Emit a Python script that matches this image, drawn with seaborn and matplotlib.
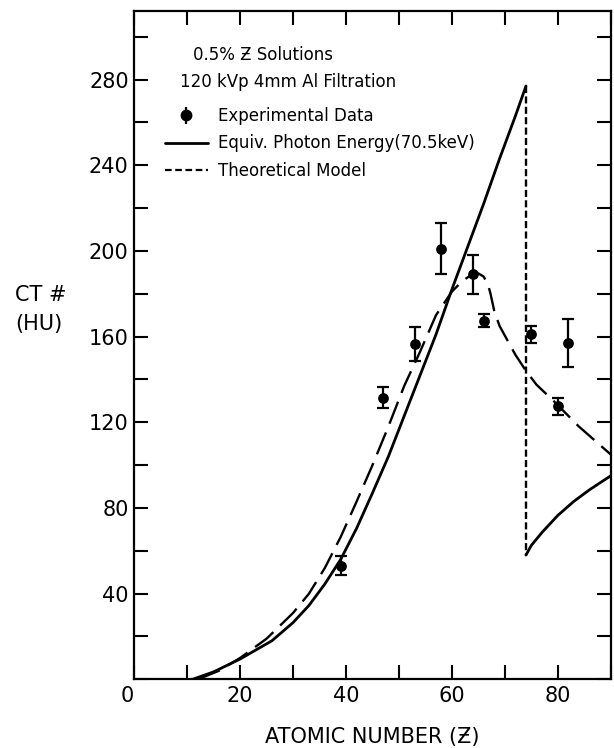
import numpy as np
import pandas as pd
import matplotlib
matplotlib.use("Agg")
import matplotlib.pyplot as plt
from matplotlib.lines import Line2D
import seaborn as sns

# Measured CT numbers of 0.5% solutions of elements Z
z_exp = [39, 47, 53, 58, 64, 66, 75, 80, 82]
ct_exp = [53, 131.5, 156.5, 201, 189, 167.5, 161, 127.5, 157]
ct_err = [4.5, 5, 8, 12, 9, 3, 4, 4, 11]

# Equivalent photon energy (70.5 keV) prediction, below and above the K-edge
z_eq_low = [11, 15, 20, 26, 30, 33, 36, 39, 42, 45, 48, 51, 54, 57, 60, 63, 66, 69, 72, 74]
ct_eq_low = [0, 3.5, 9.5, 18, 26.5, 34.5, 44.5, 56, 70.5, 87, 104, 123, 142, 161, 182, 202, 222, 243, 263, 277]
z_eq_high = [74, 75, 77, 80, 83, 86, 90]
ct_eq_high = [58, 62.5, 68.5, 76.5, 83, 88.5, 95]

# Full-spectrum theoretical model
z_th = [12, 16, 20, 25, 30, 33, 36, 39, 42, 45, 48, 51, 54, 57, 60, 62, 63.5, 65, 66, 66.8,
        67.3, 68, 69, 70, 72, 74, 76, 79, 84, 90]
ct_th = [0, 4, 10, 19, 31, 40, 52, 66.5, 83, 100, 118, 137, 153, 170, 181, 186, 188.5, 189.5, 188, 184.5,
         180, 172, 165, 160.5, 151.5, 144, 137.5, 130.5, 118, 105]

x_ticks_major = [0, 20, 40, 60, 80]
y_ticks_major = [40, 80, 120, 160, 200, 240, 280]

sns.set_style("ticks")
plt.rcParams["font.family"] = ["DejaVu Sans"]
plt.rcParams["text.color"] = "black"
plt.rcParams["axes.labelcolor"] = "black"
plt.rcParams["axes.linewidth"] = 1.5

fig = plt.figure(figsize=(6.14, 7.48), dpi=100)
ax = fig.add_axes([0.2187, 0.0918, 0.7759, 0.8935])

low = pd.DataFrame({"Z": z_eq_low, "CT": ct_eq_low})
high = pd.DataFrame({"Z": z_eq_high, "CT": ct_eq_high})
theory = pd.DataFrame({"Z": z_th, "CT": ct_th})
exp = pd.DataFrame({"Z": z_exp, "CT": ct_exp, "err": ct_err})

lw = 2.0
sns.lineplot(data=low, x="Z", y="CT", ax=ax, color="black", lw=lw,
             sort=False, estimator=None)
sns.lineplot(data=high, x="Z", y="CT", ax=ax, color="black", lw=lw,
             sort=False, estimator=None)
# K-edge discontinuity of the equivalent-energy curve
edge = pd.DataFrame({"Z": [z_eq_low[-1], z_eq_high[0]],
                     "CT": [ct_eq_low[-1], ct_eq_high[0]]})
sns.lineplot(data=edge, x="Z", y="CT", ax=ax, color="black", lw=1.7,
             sort=False, estimator=None, linestyle=(0, (3, 1.4)))
sns.lineplot(data=theory, x="Z", y="CT", ax=ax, color="black", lw=1.7,
             sort=False, estimator=None, linestyle=(0, (10, 4)))

ax.errorbar(exp["Z"], exp["CT"], yerr=exp["err"], fmt="none", ecolor="black",
            elinewidth=1.6, capsize=4.3, capthick=1.6)
sns.scatterplot(data=exp, x="Z", y="CT", ax=ax, color="black", s=60,
                edgecolor="black", linewidth=0, zorder=5)

ax.set_xlim(0, 90)
ax.set_ylim(0, 312)
ax.set_xticks(np.arange(0, 91, 10))
ax.set_xticklabels([str(v) if v in x_ticks_major else "" for v in range(0, 91, 10)])
ax.set_yticks(np.arange(0, 301, 20))
ax.set_yticklabels([str(v) if v in y_ticks_major else "" for v in range(0, 301, 20)])
ax.tick_params(axis="both", direction="in", length=10, width=1.5,
               top=True, right=True, labelsize=15, colors="black")
ax.tick_params(axis="x", pad=5)
ax.tick_params(axis="y", pad=4)
first = ax.get_xticklabels()[0]
first.set_horizontalalignment("right")
for s in ax.spines.values():
    s.set_visible(True)
    s.set_linewidth(1.6)
    s.set_color("black")

ax.set_xlabel("ATOMIC NUMBER (Ƶ)", fontsize=15, labelpad=15)
ax.set_ylabel("")
fig.text(15 / 614, 1 - 295 / 748, "CT #", fontsize=15, ha="left", va="center")
fig.text(15 / 614, 1 - 324 / 748, "(HU)", fontsize=15, ha="left", va="center")

ax.text(0.123, 0.934, "0.5% Ƶ Solutions", transform=ax.transAxes,
        fontsize=12, ha="left", va="center")
ax.text(0.096, 0.894, "120 kVp 4mm Al Filtration", transform=ax.transAxes,
        fontsize=12, ha="left", va="center")

h_exp = ax.errorbar([], [], yerr=[], fmt="o", color="black", ms=7.5,
                    elinewidth=1.6, capsize=4.3, capthick=1.6)
h_eq = Line2D([], [], color="black", lw=lw)
h_th = Line2D([], [], color="black", lw=1.6, linestyle=(0, (3, 1.6)))
ax.legend([h_exp, h_eq, h_th],
          ["Experimental Data", "Equiv. Photon Energy(70.5keV)", "Theoretical Model"],
          loc="upper left", bbox_to_anchor=(0.064, 0.856), frameon=False,
          fontsize=12, handlelength=2.6, handletextpad=0.6, labelspacing=0.55,
          borderpad=0, borderaxespad=0)

fig.savefig("out.png", dpi=100, facecolor="white")
